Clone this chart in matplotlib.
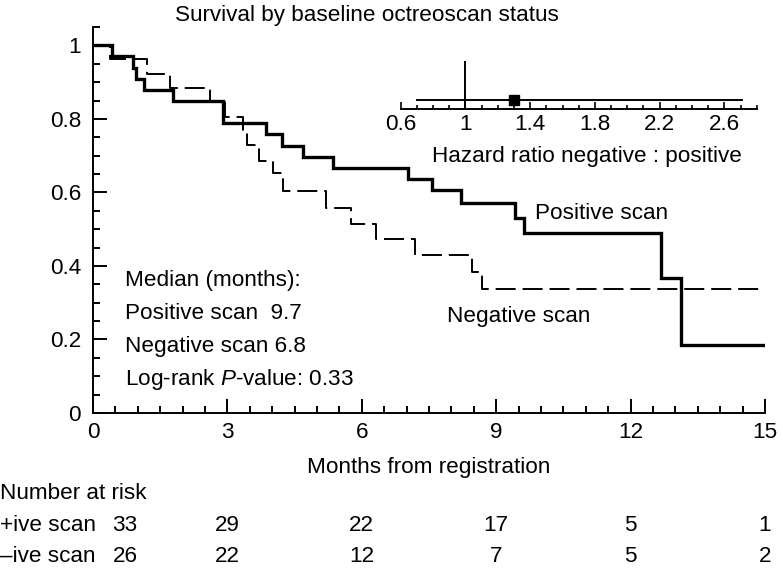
import numpy as np
import matplotlib
matplotlib.use("Agg")
import matplotlib.pyplot as plt
from matplotlib.ticker import MultipleLocator, FuncFormatter
from matplotlib.transforms import blended_transform_factory, ScaledTranslation

plt.rcParams['font.family'] = ['Liberation Sans', 'DejaVu Sans']
plt.rcParams['font.size'] = 16.2
plt.rcParams['mathtext.fontset'] = 'custom'
plt.rcParams['mathtext.rm'] = 'Liberation Sans'
plt.rcParams['mathtext.it'] = 'Liberation Sans:italic'
plt.rcParams['lines.scale_dashes'] = False

# Kaplan-Meier steps
pos_time = [0, 0.42, 0.90, 0.96, 1.14, 1.79, 2.91, 3.86, 4.21, 4.68, 5.36,
            7.04, 7.56, 8.21, 9.42, 9.61, 12.67, 13.12, 15]
pos_surv = [1, 0.970, 0.939, 0.909, 0.879, 0.848, 0.788, 0.758, 0.727, 0.697,
            0.667, 0.636, 0.606, 0.572, 0.530, 0.490, 0.368, 0.184, 0.184]

neg_time = [0, 0.38, 1.21, 1.72, 2.61, 2.95, 3.34, 3.44, 3.71, 4.02, 4.23,
            5.21, 5.76, 6.32, 7.19, 8.45, 8.68, 15]
neg_surv = [1, 0.962, 0.923, 0.885, 0.848, 0.806, 0.766, 0.728, 0.686, 0.652,
            0.605, 0.559, 0.515, 0.474, 0.431, 0.383, 0.336, 0.336]

# number at risk
risk_times = [0, 3, 6, 9, 12, 15]
risk_pos = [33, 29, 22, 17, 5, 1]
risk_neg = [26, 22, 12, 7, 5, 2]

# hazard ratio (negative : positive) with CI
hr = 1.30
hr_lo = 0.70
hr_hi = 2.71

W, H = 783, 568


def fx(px):
    return px / W


def fy(py):
    return 1 - py / H


fig = plt.figure(figsize=(7.83, 5.68), dpi=100)
ax = fig.add_axes([fx(93), fy(413), fx(765) - fx(93), fy(27) - fy(413)])

ax.plot(pos_time, pos_surv, drawstyle='steps-post', color='black', lw=2.4,
        solid_joinstyle='miter')
ax.plot(neg_time, neg_surv, drawstyle='steps-post', color='black', lw=1.4,
        dashes=(14.4, 5))

ax.set_xlim(0, 15)
ax.set_ylim(0, 1.05)
for s in ['top', 'right']:
    ax.spines[s].set_visible(False)
for s in ['left', 'bottom']:
    ax.spines[s].set_linewidth(1.4)

ax.xaxis.set_major_locator(MultipleLocator(3))
ax.xaxis.set_minor_locator(MultipleLocator(0.5))
ax.yaxis.set_major_locator(MultipleLocator(0.2))
ax.yaxis.set_minor_locator(MultipleLocator(0.05))
ax.yaxis.set_major_formatter(FuncFormatter(lambda v, p: f"{v:g}"))
ax.tick_params(which='both', direction='in', width=1.4)
ax.tick_params(which='major', length=10)
ax.tick_params(which='minor', length=5)
ax.tick_params(axis='x', pad=6.5)
ax.tick_params(axis='y', pad=8.5)

# curve labels
ax.text(9.87, 0.5285, 'Positive scan', ha='left', va='baseline')
ax.text(7.90, 0.248, 'Negative scan', ha='left', va='baseline')

# medians block
ax.text(0.714, 0.346, 'Median (months):', ha='left', va='baseline')
ax.text(0.714, 0.2554, 'Positive scan  9.7', ha='left', va='baseline')
ax.text(0.714, 0.1666, 'Negative scan 6.8', ha='left', va='baseline')
ax.text(0.714, 0.0761, 'Log-rank $P$-value: 0.33', ha='left', va='baseline')

# title and axis label
fig.text(fx(175), fy(20.7), 'Survival by baseline octreoscan status',
         ha='left', va='baseline')
fig.text(fx(429), fy(473), 'Months from registration', ha='center', va='baseline')

# number at risk table
fig.text(0, fy(499.3), 'Number at risk', ha='left', va='baseline')
fig.text(0, fy(530.7), '+ive scan', ha='left', va='baseline')
fig.text(0, fy(562.3), '\u2013ive scan', ha='left', va='baseline')
trans = blended_transform_factory(ax.transData, fig.transFigure)
shift = ScaledTranslation(32 / 100, 0, fig.dpi_scale_trans)
for t, n1, n2 in zip(risk_times, risk_pos, risk_neg):
    tr = trans + shift if t == 0 else trans
    fig.text(t, fy(530.7), str(n1), ha='center', va='baseline', transform=tr)
    fig.text(t, fy(562.3), str(n2), ha='center', va='baseline', transform=tr)

# inset hazard ratio plot
ins = fig.add_axes([fx(400.7), fy(109), fx(756.7) - fx(400.7), fy(60.7) - fy(109)])
ins.set_xlim(0.6, 2.8)
ins.set_ylim(0, 1)
for s in ['top', 'right', 'left']:
    ins.spines[s].set_visible(False)
ins.spines['bottom'].set_linewidth(1.4)
ins.patch.set_alpha(0)
ins.set_yticks([])
ins.xaxis.set_major_locator(MultipleLocator(0.4))
ins.xaxis.set_minor_locator(MultipleLocator(0.1))
ins.xaxis.set_major_formatter(FuncFormatter(lambda v, p: f"{v:g}"))
ins.set_xticks(np.arange(0.6, 2.61, 0.4))
ins.tick_params(which='both', direction='in', width=1.2, pad=3.6)
ins.tick_params(which='major', length=5)
ins.tick_params(which='minor', length=3)
ins.axvline(1, color='black', lw=1.4)
ins.plot([hr_lo, hr_hi], [0.19, 0.19], color='black', lw=1.4)
ins.plot([hr], [0.19], marker='s', color='black', markersize=7.2)
fig.text(fx(586.7), fy(161.7), 'Hazard ratio negative : positive',
         ha='center', va='baseline')

fig.savefig('out.png', dpi=100)
